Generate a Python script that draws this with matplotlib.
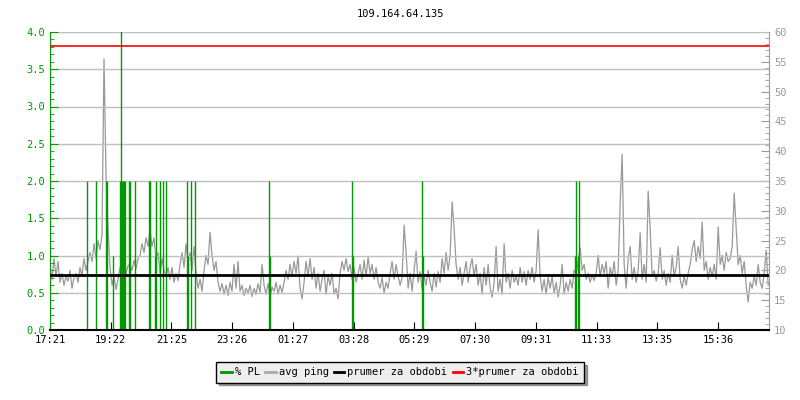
import numpy as np
import matplotlib.pyplot as plt
from matplotlib.lines import Line2D

# avg ping in ms, one value every 4 minutes, starting 17:21
ping = [
    20.5, 18.5, 22.0, 19.0, 21.5, 18.0, 19.5, 17.5, 19.0, 18.2, 20.0, 17.0, 18.8, 19.5, 18.0, 20.5, 19.0, 22.0, 20.0, 21.5,
    23.0, 21.5, 24.5, 22.0, 25.0, 23.5, 26.0, 55.5, 36.0, 27.0, 20.5, 17.5, 19.0, 16.8, 18.5, 20.5, 19.0, 21.0, 19.5, 20.8,
    21.0, 20.0, 21.7, 20.3, 22.0, 22.5, 24.5, 23.0, 25.5, 24.0, 26.8, 24.0, 25.5, 21.5, 23.0, 19.5, 22.0, 20.0, 19.0, 20.5,
    18.5, 20.5, 18.0, 19.5, 18.3, 21.0, 23.0, 20.5, 24.5, 21.5, 23.0, 20.0, 24.0, 19.5, 17.0, 18.5, 16.5, 20.0, 22.5, 21.0,
    26.4, 22.5, 20.0, 21.5, 18.0, 16.5, 17.8, 16.0, 17.5, 15.8, 18.0, 16.5, 21.0, 17.0, 21.5, 16.5, 17.5, 15.8, 17.0, 16.2,
    17.5, 15.6, 17.0, 16.0, 17.8, 16.3, 21.0, 17.5, 16.0, 17.8, 15.5, 17.2, 16.5, 18.0, 16.0, 17.5, 16.3, 18.0, 20.0, 18.5,
    21.0, 19.0, 21.5, 19.5, 22.4, 17.0, 15.2, 18.0, 21.5, 19.0, 22.0, 18.5, 20.5, 17.0, 19.5, 16.5, 18.5, 20.0, 16.0, 19.0,
    17.5, 19.5, 16.0, 17.0, 15.2, 19.5, 21.5, 20.0, 22.0, 19.8, 21.0, 18.5, 20.5, 18.0, 19.5, 21.0, 18.5, 21.7, 19.0, 22.2,
    19.5, 21.0, 18.5, 20.5, 18.0, 17.0, 18.8, 16.2, 18.0, 17.0, 19.5, 21.5, 18.5, 21.0, 19.0, 17.5, 18.8, 27.6, 23.0, 17.0,
    19.5, 16.5, 20.0, 23.2, 18.0, 19.8, 16.8, 19.0, 17.5, 20.0, 18.0, 16.5, 19.5, 17.2, 19.8, 18.0, 22.0, 19.5, 23.0, 20.0,
    22.5, 31.5, 27.0, 21.0, 18.5, 20.5, 17.5, 19.5, 21.5, 18.0, 20.5, 22.0, 19.0, 21.0, 17.5, 19.5, 16.0, 20.5, 17.5, 21.0,
    17.0, 15.5, 18.0, 24.0, 16.5, 18.5, 16.0, 24.5, 18.0, 19.5, 17.0, 20.0, 18.0, 19.0, 17.5, 20.5, 18.0, 19.8, 17.5, 20.0,
    18.5, 20.5, 18.0, 20.0, 26.8, 19.0, 16.5, 18.5, 16.0, 18.8, 17.0, 19.0, 16.2, 18.0, 15.5, 17.5, 21.0, 16.0, 18.0, 16.5,
    18.5, 17.0, 20.0, 19.5, 21.5, 23.8, 20.0, 21.0, 18.5, 19.5, 18.0, 19.2, 18.3, 19.5, 22.5, 19.0, 21.0, 19.5, 21.5, 17.0,
    20.5, 19.0, 21.5, 17.5, 20.0, 31.3, 39.5, 21.0, 17.0, 22.0, 24.0, 18.5, 20.5, 18.0, 20.0, 26.3, 18.5, 21.0, 18.0, 33.3,
    27.0, 19.0, 20.0, 18.2, 19.5, 23.8, 18.5, 20.0, 17.5, 19.5, 18.0, 22.5, 19.0, 20.5, 24.0, 18.5, 17.0, 19.0, 17.5, 19.5,
    21.0, 23.5, 25.0, 21.5, 24.0, 22.0, 28.1, 20.0, 21.5, 18.5, 20.5, 19.0, 21.0, 18.5, 27.3, 21.0, 22.5, 20.0, 23.0, 21.5,
    22.0, 24.0, 33.0, 27.0, 21.0, 22.5, 19.5, 21.5, 17.5, 14.7, 18.0, 17.0, 19.0, 17.5, 21.0, 18.0, 17.0, 19.5, 23.4, 17.5,
]
ping_step = 4  # minutes between samples

# packet loss events: minute from start, % PL
pl_minutes = [73, 92, 112, 114, 125, 140, 142, 144, 146, 148, 150, 157, 159, 169,
              197, 200, 210, 212, 219, 225, 231, 274, 276, 281, 290,
              438, 440, 604, 606, 743, 745, 1049, 1051, 1055, 1057]
pl_values = [2.0, 2.0, 2.0, 2.0, 1.0, 2.0, 6.0, 2.0, 2.0, 2.0, 2.0, 2.0, 2.0, 2.0,
             2.0, 2.0, 1.0, 2.0, 2.0, 2.0, 2.0, 2.0, 1.0, 2.0, 2.0,
             2.0, 1.0, 2.0, 1.0, 2.0, 1.0, 1.0, 2.0, 1.0, 2.0]

prumer = 19.2  # average ping for the period
tick_labels = ['17:21', '19:22', '21:25', '23:26', '01:27', '03:28',
               '05:29', '07:30', '09:31', '11:33', '13:35', '15:36']
tick_step = 121.45
span = 1438

GREEN = '#009900'
GREY = '#999999'

plt.rcParams['font.family'] = 'DejaVu Sans Mono'
plt.rcParams['font.size'] = 7.5

fig = plt.figure(figsize=(8, 4), dpi=100)
ax = fig.add_axes([0.0625, 0.175, 0.899, 0.745])
ax2 = ax.twinx()
# left axis (packet loss) drawn on top of the ping axis
ax.set_zorder(ax2.get_zorder() + 1)
ax.patch.set_visible(False)

t = np.arange(len(ping)) * ping_step
ax2.plot(t, ping, color=GREY, lw=0.9)
ax2.set_ylim(10, 60)
ax2.set_yticks(range(10, 61, 5))
ax2.set_yticks(range(10, 61), minor=True)

ax.vlines(pl_minutes, 0, pl_values, color=GREEN, lw=1.0)
ax.plot([0, span], [prumer, prumer], color='black', lw=2, transform=ax2.transData, zorder=5)
ax.plot([0, span], [3 * prumer, 3 * prumer], color='red', lw=1.2, transform=ax2.transData, zorder=5)

ax.set_ylim(0, 4)
ax.set_xlim(0, span)
ax.set_yticks(np.arange(0, 4.01, 0.5))
ax.set_yticks(np.arange(0, 4.01, 0.1), minor=True)
ax.set_yticklabels(['%.1f' % v for v in np.arange(0, 4.01, 0.5)])
ax.set_xticks([i * tick_step for i in range(len(tick_labels))])
ax.set_xticklabels(tick_labels)
ax.grid(axis='y', color='#c0c0c0', lw=1)
ax.set_axisbelow(True)

ax.tick_params(axis='y', which='both', colors=GREEN, direction='in')
ax.tick_params(axis='y', which='major', length=6)
ax.tick_params(axis='y', which='minor', length=3)
ax.tick_params(axis='x', direction='in', length=6, colors='black')
ax2.tick_params(axis='y', which='both', colors=GREY, direction='in')
ax2.tick_params(axis='y', which='major', length=6)
ax2.tick_params(axis='y', which='minor', length=3)

for a in (ax, ax2):
    a.spines['top'].set_visible(False)
ax.spines['left'].set_color(GREEN)
ax.spines['right'].set_visible(False)
ax2.spines['left'].set_visible(False)
ax2.spines['bottom'].set_visible(False)
ax2.spines['right'].set_color(GREY)
ax.spines['bottom'].set_linewidth(1.5)

fig.text(0.5, 0.965, '109.164.64.135', ha='center', va='center')

handles = [Line2D([], [], color=GREEN, lw=2),
           Line2D([], [], color='#aaaaaa', lw=2),
           Line2D([], [], color='black', lw=2),
           Line2D([], [], color='red', lw=2)]
labels = ['% PL', 'avg ping', 'prumer za obdobi', '3*prumer za obdobi']
leg = fig.legend(handles, labels, loc='center', bbox_to_anchor=(0.5, 0.069), ncol=4,
                 handlelength=1.0, handletextpad=0.3, columnspacing=0.5,
                 frameon=True, fancybox=False, shadow=True, borderpad=0.5)
leg.get_frame().set_edgecolor('black')
leg.get_frame().set_facecolor('#eeeeee')
leg.get_frame().set_alpha(1)

fig.savefig('out.png', dpi=100)
